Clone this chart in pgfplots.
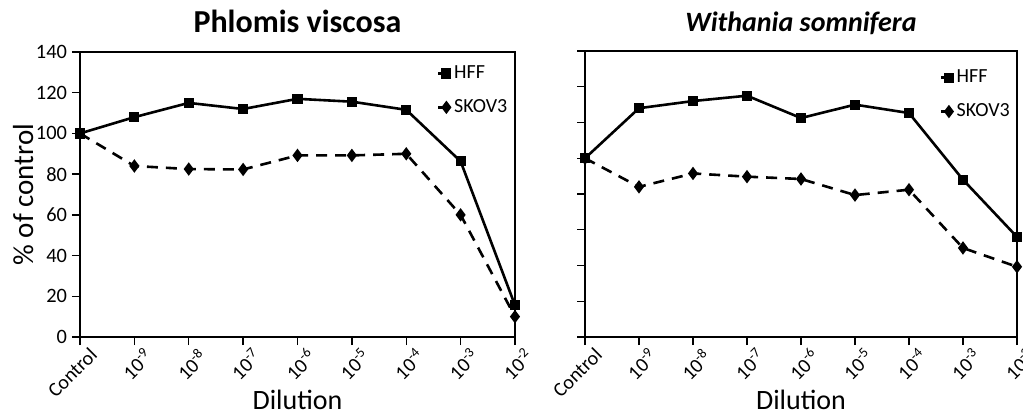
\documentclass[border=0pt]{standalone}
\usepackage{fontspec}
\setmainfont{Carlito}
\usepackage{pgfplots}
\pgfplotsset{compat=1.18}

\pgfplotsset{
  dil/.style={
    scale only axis,
    width=217.5pt, height=142.5pt,
    xmin=0, xmax=8,
    ymin=0,
    xtick={0,...,8},
    xticklabels={Control,10\textsuperscript{-9},10\textsuperscript{-8},10\textsuperscript{-7},10\textsuperscript{-6},10\textsuperscript{-5},10\textsuperscript{-4},10\textsuperscript{-3},10\textsuperscript{-2}},
    x tick label style={rotate=45, anchor=north east, font=\fontsize{10}{12}\selectfont, xshift=6pt, yshift=0pt},
    y tick label style={font=\fontsize{10.2}{12}\selectfont, xshift=1pt},
    /pgf/number format/assume math mode=true,
    tick align=outside, xtick pos=left, ytick pos=left,
    major tick length=4pt,
    tick style={black, line width=0.7pt},
    axis line style={black, line width=0.8pt},
    title style={at={(axis description cs:0.5,1)}, anchor=base, yshift=4pt},
    xlabel={Dilution},
    every axis x label/.style={at={(axis description cs:0.5,0)}, anchor=center, yshift=-31.5pt, font=\fontsize{14}{16}\selectfont},
    legend style={draw=none, fill=none, anchor=north west, font=\fontsize{10}{12}\selectfont, row sep=5pt, inner sep=0pt},
    legend cell align=left,
    legend image code/.code={\draw[#1,solid,mark=none] (0pt,0pt) -- (4pt,0pt); \draw[#1] plot coordinates {(4pt,0pt)};},
  },
  hff/.style={black, line width=1.3pt, mark=square*, mark size=1.9pt, mark options={solid}},
  skov/.style={black, line width=1.3pt, dash pattern=on 5.5pt off 4pt, mark=diamond*, mark size=2.3pt, mark options={solid}},
}

\begin{document}
\begin{tikzpicture}
\begin{axis}[dil,
  at={(0pt,0pt)}, anchor=south west,
  ymax=140, ytick={0,20,...,140},
  title={\fontsize{16}{18}\selectfont\bfseries Phlomis viscosa},
  ylabel={\% of control},
  every axis y label/.style={at={(axis description cs:-0.108,0.5)}, rotate=90, anchor=base, font=\fontsize{14.5}{17}\selectfont},
  legend style={at={(rel axis cs:0.82,0.968)}},
]
\addplot[hff] coordinates {(0,100) (1,108) (2,115) (3,112) (4,117) (5,115.6) (6,111.6) (7,86.3) (8,15.6)};
\addplot[skov] coordinates {(0,100) (1,84) (2,82.5) (3,82.3) (4,89.2) (5,89.2) (6,90) (7,60) (8,10)};
\legend{HFF,SKOV3}
\end{axis}
\begin{axis}[dil,
  at={(252.5pt,0pt)}, anchor=south west,
  width=216pt, height=143pt,
  ymax=160, ytick={0,20,...,160}, yticklabels={},
  title={\fontsize{14}{17}\selectfont\bfseries\itshape Withania somnifera},
  legend style={at={(rel axis cs:0.82,0.95)}},
]
\addplot[hff] coordinates {(0,100) (1,128) (2,132) (3,135) (4,122.5) (5,130) (6,125.3) (7,88) (8,56)};
\addplot[skov] coordinates {(0,100) (1,84) (2,91.5) (3,89.7) (4,88.4) (5,79.4) (6,82.4) (7,49.8) (8,39.3)};
\legend{HFF,SKOV3}
\end{axis}
\pgfresetboundingbox
\useasboundingbox (-40pt,-41pt) rectangle (471.5pt,168.5pt);
\end{tikzpicture}
\end{document}
